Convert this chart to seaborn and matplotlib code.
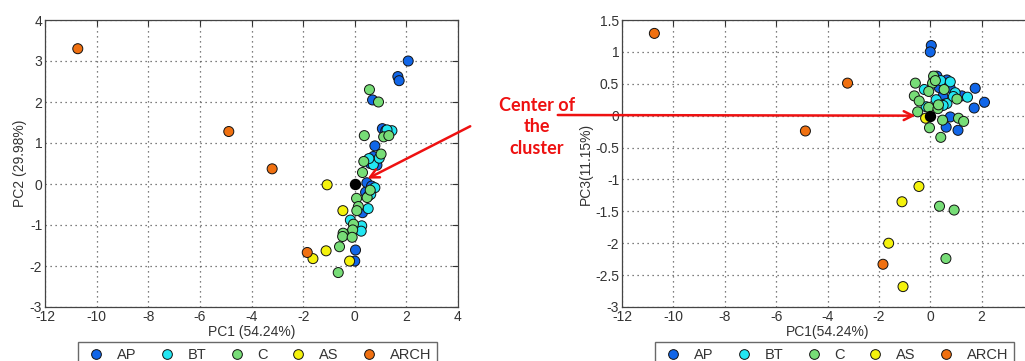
import seaborn as sns
import numpy as np
import pandas as pd
import matplotlib.pyplot as plt
from matplotlib.lines import Line2D

groups = ["AP", "BT", "C", "AS", "ARCH"]
colors = ["#1166e8", "#22e6f2", "#77dd77", "#f4f20c", "#f07010"]

# left panel: PC1 vs PC2
ap_pc1_a = [2.07, 1.67, 1.72, 0.69, 1.07, 1.2, 0.78, 0.72, 0.55, 0.86, 0.6, 0.47, 0.42, 0.55, 0.3, 0.03, 0.0, 0.65]
ap_pc2_a = [3.0, 2.62, 2.52, 2.05, 1.35, 1.3, 0.93, 0.67, 0.6, 0.46, 0.5, 0.03, -0.2, -0.28, -0.7, -1.61, -1.88, -0.05]
bt_pc1_a = [1.44, 1.25, 0.72, 0.95, 0.55, 0.78, 0.62, 0.52, -0.17, 0.27, 0.25, -0.15]
bt_pc2_a = [1.3, 1.32, 0.47, 0.63, 0.62, -0.09, -0.25, -0.6, -0.88, -1.02, -1.15, -1.2]
c_pc1_a = [0.57, 0.92, 0.37, 1.12, 1.32, 1.02, 0.35, 0.3, 0.48, 0.6, 0.07, 0.14, 0.08, -0.05, -0.08, -0.45, -0.47, -0.1, -0.59, -0.64]
c_pc2_a = [2.3, 2.0, 1.18, 1.15, 1.18, 0.73, 0.55, 0.28, -0.33, -0.15, -0.35, -0.55, -0.65, -0.98, -1.12, -1.2, -1.28, -1.3, -1.53, -2.16]
as_pc1_a = [-1.07, -0.46, -1.11, -1.62, -0.2]
as_pc2_a = [-0.02, -0.65, -1.63, -1.82, -1.88]
arch_pc1_a = [-10.73, -4.88, -3.2, -1.84]
arch_pc2_a = [3.3, 1.28, 0.37, -1.67]

# right panel: PC1 vs PC3
ap_pc1_b = [0.04, 0.0, 1.75, 2.11, 1.71, 1.23, 0.78, 0.62, 1.08, 0.26, 0.65, 0.35, 0.49, 0.78, 0.15, 0.55]
ap_pc3_b = [1.1, 1.0, 0.43, 0.21, 0.12, 0.31, -0.02, -0.18, -0.23, 0.62, 0.56, 0.44, 0.3, 0.43, 0.58, 0.18]
bt_pc1_b = [-0.23, 0.41, 0.78, 0.97, 1.45, 0.23, 0.65, -0.16, 0.5, 0.9]
bt_pc3_b = [0.41, 0.55, 0.53, 0.36, 0.29, 0.25, 0.19, 0.14, 0.16, 0.3]
c_pc1_b = [0.36, 0.93, 0.61, -0.58, -0.62, -0.43, -0.49, -0.06, -0.03, 0.41, 0.48, 0.3, 0.13, 0.09, -0.06, 0.54, 1.04, 1.1, 1.3, 0.32, 0.2]
c_pc3_b = [-1.42, -1.48, -2.24, 0.51, 0.31, 0.23, 0.06, 0.13, -0.19, -0.34, -0.07, 0.11, 0.62, 0.51, 0.38, 0.41, 0.26, -0.04, -0.09, 0.17, 0.55]
as_pc1_b = [-0.44, -1.1, -1.62, -1.06, -0.18]
as_pc3_b = [-1.11, -1.35, -2.0, -2.68, -0.04]
arch_pc1_b = [-10.74, -3.22, -4.86, -1.84]
arch_pc3_b = [1.29, 0.51, -0.24, -2.33]

center = (0.0, 0.0)

xticks_a = [-12, -10, -8, -6, -4, -2, 0, 2, 4]
xticks_b = [-12, -10, -8, -6, -4, -2, 0, 2]
yticks_a = [-3, -2, -1, 0, 1, 2, 3, 4]
yticks_b = [-3, -2.5, -2, -1.5, -1, -0.5, 0, 0.5, 1, 1.5]
ytick_labels_b = ["-3", "-2.5", "-2", "-1.5", "-1", "-0.5", "0", "0.5", "1", "1.5"]


def make_df(xs, ys):
    rows = []
    for g, x, y in zip(groups, xs, ys):
        for a, b in zip(x, y):
            rows.append((g, a, b))
    return pd.DataFrame(rows, columns=["group", "x", "y"])


df_a = make_df([ap_pc1_a, bt_pc1_a, c_pc1_a, as_pc1_a, arch_pc1_a],
               [ap_pc2_a, bt_pc2_a, c_pc2_a, as_pc2_a, arch_pc2_a])
df_b = make_df([ap_pc1_b, bt_pc1_b, c_pc1_b, as_pc1_b, arch_pc1_b],
               [ap_pc3_b, bt_pc3_b, c_pc3_b, as_pc3_b, arch_pc3_b])

sns.set_style("white")
plt.rcParams["font.family"] = ["Liberation Sans", "DejaVu Sans"]
plt.rcParams["axes.unicode_minus"] = False
txt = "#333333"

fig = plt.figure(figsize=(10.25, 3.61), dpi=100)
ax1 = fig.add_axes([45 / 1025, 54 / 361, 413 / 1025, 287 / 361])
ax2 = fig.add_axes([622 / 1025, 54 / 361, 411 / 1025, 287 / 361])
pal = dict(zip(groups, colors))

for ax, df, xt, yt, ylab in [(ax1, df_a, xticks_a, yticks_a, "PC2 (29.98%)"),
                             (ax2, df_b, xticks_b, yticks_b, "PC3(11.15%)")]:
    sns.scatterplot(data=df, x="x", y="y", hue="group", palette=pal, s=52,
                    edgecolor="#111111", linewidth=0.7, legend=False, ax=ax, zorder=3)
    ax.scatter([center[0]], [center[1]], s=52, color="black", zorder=4)
    ax.set_xlim(-12, 4)
    ax.set_ylim(yt[0], yt[-1])
    ax.set_xticks(xt)
    ax.set_yticks(yt)
    ax.grid(True, linestyle=(0, (1, 3)), color="#555555", linewidth=0.9)
    ax.tick_params(direction="in", length=4, top=True, right=True, labelsize=10,
                   colors=txt, pad=2)
    for sp in ax.spines.values():
        sp.set_color("#444444")
        sp.set_linewidth(0.9)
    ax.set_ylabel(ylab, fontsize=10, color=txt, labelpad=2)

ax1.set_xlabel("PC1 (54.24%)", fontsize=10, color=txt, labelpad=1)
ax2.set_xlabel("PC1(54.24%)", fontsize=10, color=txt, labelpad=1)
ax2.set_yticklabels(ytick_labels_b)

handles = [Line2D([], [], marker="o", linestyle="", markersize=7, markerfacecolor=c,
                  markeredgecolor="#111111", markeredgewidth=0.7) for c in colors]
for x0 in [78 / 1025, 655 / 1025]:
    leg = fig.legend(handles, groups, ncol=5, loc="upper left",
                     bbox_to_anchor=(x0, 1 - 342 / 361), borderaxespad=0,
                     frameon=True, fancybox=False, fontsize=10.5, handlelength=1.7,
                     handletextpad=0.6, columnspacing=1.2, borderpad=0.4)
    leg.get_frame().set_edgecolor("#444444")
    leg.get_frame().set_linewidth(1.0)
    for t in leg.get_texts():
        t.set_color(txt)

fig.text(537 / 1025, 1 - 127 / 361, "Center of\nthe\ncluster", ha="center", va="center",
         color="#ee1111", fontsize=13, fontweight="bold", family="Lato", linespacing=1.3)

ax1.annotate("", xy=(0.4, 0.1), xytext=(472.7 / 1025, 1 - 125 / 361),
             textcoords="figure fraction", annotation_clip=False,
             arrowprops=dict(arrowstyle="->", color="#ee1111", lw=1.8, mutation_scale=16))
ax2.annotate("", xy=(-0.47, 0.0), xytext=(555 / 1025, 1 - 115 / 361),
             textcoords="figure fraction", annotation_clip=False,
             arrowprops=dict(arrowstyle="->", color="#ee1111", lw=1.8, mutation_scale=16))

plt.savefig("out.png", dpi=100)
